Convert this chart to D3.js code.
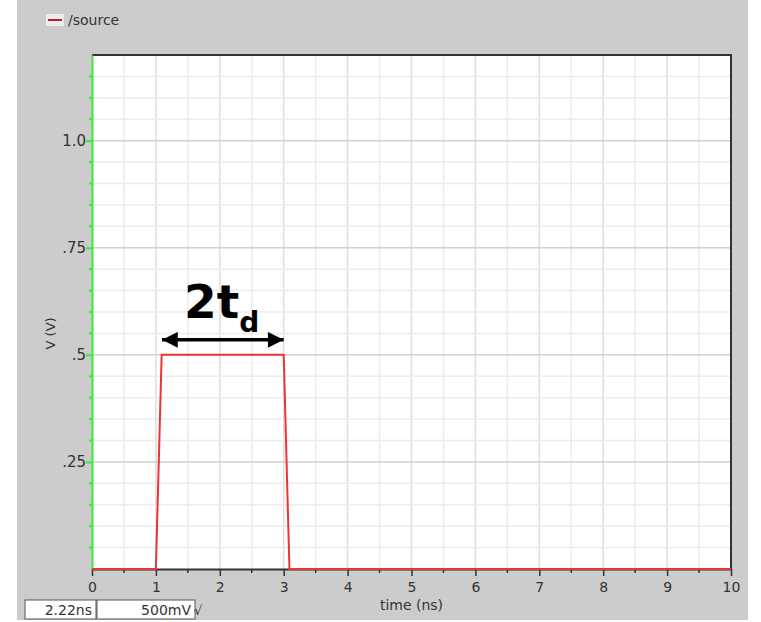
<!DOCTYPE html>
<html>
<head>
<meta charset="utf-8">
<script src="https://cdn.jsdelivr.net/npm/d3@7"></script>
<style>
  body { margin: 0; background: #fff; }
  svg text { font-family: 'DejaVu Sans', sans-serif; }
</style>
</head>
<body>
<div id="chart"></div>
<script>
// waveform samples
const timeNs = [0, 1.0, 1.09, 3.0, 3.09, 10]
const volts = [0, 0, 0.5, 0.5, 0, 0]
const xTicks = [0, 1, 2, 3, 4, 5, 6, 7, 8, 9, 10]
const yTicks = [0.25, 0.5, 0.75, 1.0]
const yTickLabels = ['.25', '.5', '.75', '1.0']
const seriesName = '/source'
const cursorTime = '2.22ns'
const cursorScale = '500mV'

const width = 761
const height = 622
const margin = { top: 55, right: 30, bottom: 53, left: 92 }

const svg = d3
  .select('#chart')
  .append('svg')
  .attr('width', width)
  .attr('height', height)

// grey panel
svg.append('rect')
  .attr('x', 17).attr('y', 0)
  .attr('width', 731).attr('height', 620)
  .attr('fill', '#cccccc')

const x = d3.scaleLinear().domain([0, 10]).range([margin.left, width - margin.right])
const y = d3.scaleLinear().domain([0, 1.2]).range([height - margin.bottom, margin.top])

// plot background
svg.append('rect')
  .attr('x', x(0)).attr('y', y(1.2))
  .attr('width', x(10) - x(0)).attr('height', y(0) - y(1.2))
  .attr('fill', '#fff')

// grid
const xMinor = d3.range(0.5, 10, 0.5)
const yMinor = d3.range(0.05, 1.2, 0.05)
svg.append('g')
  .selectAll('line')
  .data(xMinor)
  .enter()
  .append('line')
  .attr('x1', d => x(d)).attr('x2', d => x(d))
  .attr('y1', y(0)).attr('y2', y(1.2))
  .attr('stroke', d => (Math.abs(d - Math.round(d)) < 1e-6 ? '#dedede' : '#ececec'))
  .attr('stroke-width', 1.5)
svg.append('g')
  .selectAll('line')
  .data(yMinor)
  .enter()
  .append('line')
  .attr('x1', x(0)).attr('x2', x(10))
  .attr('y1', d => y(d)).attr('y2', d => y(d))
  .attr('stroke', d => (Math.abs(d * 4 - Math.round(d * 4)) < 1e-6 ? '#d0d0d0' : '#ececec'))
  .attr('stroke-width', 1.5)

// frame top/right
svg.append('path')
  .attr('d', `M${x(0)},${y(1.2)}H${x(10)}V${y(0)}`)
  .attr('fill', 'none')
  .attr('stroke', '#333')
  .attr('stroke-width', 2)

// x axis
const xAxis = svg.append('g')
  .attr('transform', `translate(0,${y(0)})`)
  .call(d3.axisBottom(x).tickValues(xTicks).tickSize(7).tickSizeOuter(0).tickFormat(d3.format('d')))
xAxis.select('.domain').attr('stroke', '#333').attr('stroke-width', 2)
xAxis.selectAll('.tick line').attr('stroke', '#333').attr('stroke-width', 1.5)
xAxis.selectAll('.tick text')
  .attr('font-size', 14).attr('fill', '#333').attr('dy', '0.9em')
svg.append('g')
  .attr('transform', `translate(0,${y(0)})`)
  .selectAll('line')
  .data(xMinor.filter(d => d % 1 !== 0))
  .enter()
  .append('line')
  .attr('x1', d => x(d)).attr('x2', d => x(d))
  .attr('y1', 0).attr('y2', 4)
  .attr('stroke', '#333').attr('stroke-width', 1.5)

// y axis (green)
const yAxis = svg.append('g')
  .attr('transform', `translate(${x(0)},0)`)
  .call(d3.axisLeft(y).tickValues(yTicks).tickSize(6).tickSizeOuter(0)
    .tickFormat((d, i) => yTickLabels[i]))
yAxis.select('.domain').attr('stroke', '#33ee33').attr('stroke-width', 2)
yAxis.selectAll('.tick line').attr('stroke', '#33ee33').attr('stroke-width', 2)
yAxis.selectAll('.tick text').attr('font-size', 15).attr('fill', '#333').attr('x', -6)
svg.append('g')
  .attr('transform', `translate(${x(0)},0)`)
  .selectAll('line')
  .data(yMinor.filter(d => Math.abs(d * 4 - Math.round(d * 4)) > 1e-6))
  .enter()
  .append('line')
  .attr('x1', -3).attr('x2', 0)
  .attr('y1', d => y(d)).attr('y2', d => y(d))
  .attr('stroke', '#33ee33').attr('stroke-width', 2)

// axis titles
svg.append('text')
  .attr('x', x(5)).attr('y', 610)
  .attr('text-anchor', 'middle')
  .attr('font-size', 14).attr('fill', '#333')
  .text('time (ns)')
svg.append('text')
  .attr('transform', `translate(55,${y(0.55)}) rotate(-90)`)
  .attr('text-anchor', 'middle')
  .attr('font-size', 13).attr('fill', '#333')
  .text('V (V)')

// waveform
const line = d3.line()
  .x((d, i) => x(timeNs[i]))
  .y(d => y(d))
svg.append('path')
  .datum(volts)
  .attr('d', line)
  .attr('fill', 'none')
  .attr('stroke', '#ee3333')
  .attr('stroke-width', 2)

// legend
svg.append('rect')
  .attr('x', 46).attr('y', 14).attr('width', 18).attr('height', 12)
  .attr('fill', '#eeeeee')
svg.append('line')
  .attr('x1', 48).attr('x2', 62).attr('y1', 20).attr('y2', 20)
  .attr('stroke', '#c02020').attr('stroke-width', 2)
svg.append('text')
  .attr('x', 68).attr('y', 25)
  .attr('font-size', 14).attr('fill', '#333')
  .text(seriesName)

// 2t_d annotation with double arrow
const defs = svg.append('defs')
defs.append('marker')
  .attr('id', 'ah')
  .attr('viewBox', '0 0 10 10')
  .attr('refX', 10).attr('refY', 5)
  .attr('markerWidth', 5).attr('markerHeight', 4.5)
  .attr('markerUnits', 'strokeWidth')
  .attr('orient', 'auto-start-reverse')
  .append('path')
  .attr('d', 'M0,0L10,5L0,10z')
  .attr('fill', '#000')
const arrowY = y(0.5) - 15
svg.append('line')
  .attr('x1', x(1.08) + 1).attr('x2', x(3.0))
  .attr('y1', arrowY).attr('y2', arrowY)
  .attr('stroke', '#000').attr('stroke-width', 3.5)
  .attr('marker-start', 'url(#ah)')
  .attr('marker-end', 'url(#ah)')
const ann = svg.append('text')
  .attr('x', 184).attr('y', 318)
  .attr('font-size', 47).attr('font-weight', 'bold').attr('fill', '#000')
ann.append('tspan').text('2t')
ann.append('tspan').attr('font-size', 28).attr('dy', 14).text('d')

// cursor readout boxes
const boxes = [
  { x: 25, w: 71, label: cursorTime },
  { x: 97, w: 98, label: cursorScale }
]
boxes.forEach(b => {
  svg.append('rect')
    .attr('x', b.x).attr('y', 600).attr('width', b.w).attr('height', 19)
    .attr('fill', '#fff').attr('stroke', '#555').attr('stroke-width', 1)
  svg.append('text')
    .attr('x', b.x + b.w - 4).attr('y', 615)
    .attr('text-anchor', 'end')
    .attr('font-size', 14).attr('fill', '#333')
    .text(b.label)
})
svg.append('text')
  .attr('x', 194).attr('y', 615)
  .attr('font-size', 13).attr('fill', '#333')
  .text('√')
</script>
</body>
</html>
